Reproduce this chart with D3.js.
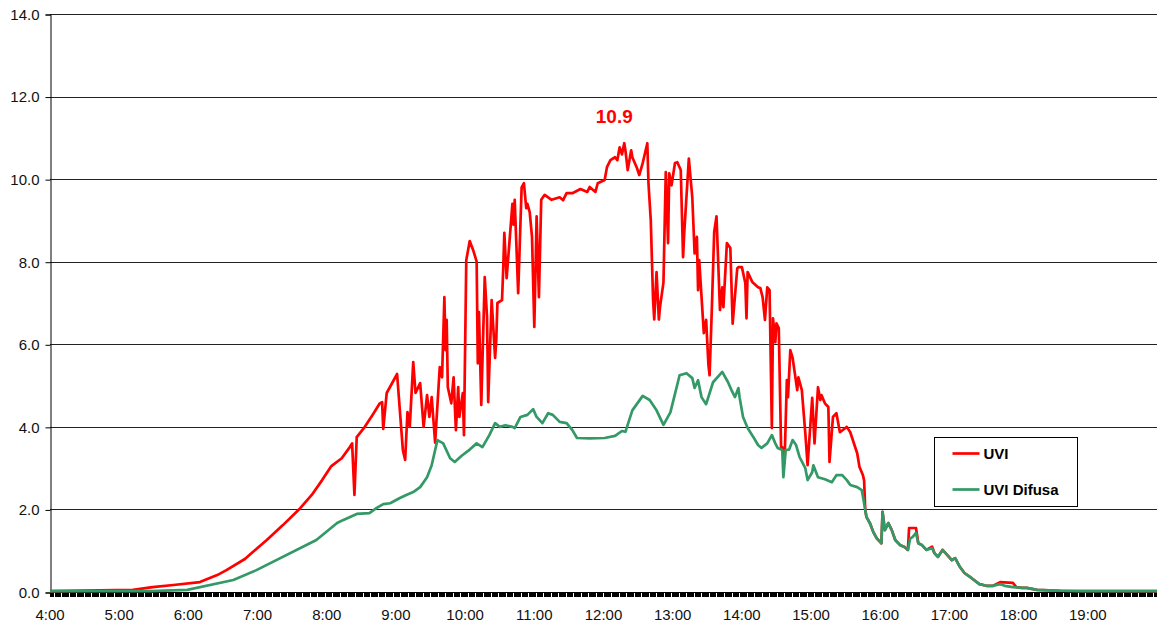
<!DOCTYPE html>
<html>
<head>
<meta charset="utf-8">
<script src="https://cdn.jsdelivr.net/npm/d3@7"></script>
<style>
  body { margin: 0; background: #fff; }
  svg { display: block; font-family: "Liberation Sans", Arial, sans-serif; }
</style>
</head>
<body>
<svg id="chart" width="1157" height="627"></svg>
<script>
// series names, axis ticks
const seriesNames = ['UVI', 'UVI Difusa'];
const yTicks = [0, 2, 4, 6, 8, 10, 12, 14];
const xTickLabels = ['4:00', '5:00', '6:00', '7:00', '8:00', '9:00', '10:00', '11:00',
  '12:00', '13:00', '14:00', '15:00', '16:00', '17:00', '18:00', '19:00'];
const peakLabel = '10.9';
const peakTime = '12:18';

// UVI (global)
const uviTimes = ['4:00','5:12','5:29','5:47','6:10','6:25','6:33','6:49','7:08','7:22','7:37','7:47','7:56',
  '8:04','8:13','8:20','8:22','8:24','8:26','8:33','8:40','8:46','8:48','8:49','8:52','9:01','9:06','9:08','9:10',
  '9:12','9:15','9:17','9:21','9:24','9:27','9:29','9:31','9:34','9:38','9:40','9:42','9:43','9:44','9:45',
  '9:48','9:50','9:52','9:54','9:55','9:58','9:59','10:01','10:04','10:07','10:10','10:11','10:12','10:14',
  '10:17','10:19','10:20','10:23','10:26','10:27','10:28','10:32','10:33','10:34','10:36','10:41','10:42',
  '10:43','10:46','10:49','10:51','10:53','10:54','10:56','10:58','11:00','11:02','11:04','11:06','11:09',
  '11:15','11:22','11:25','11:28','11:33','11:40','11:46','11:48','11:53','11:55','12:01','12:03','12:06',
  '12:10','12:12','12:14','12:16','12:18','12:19','12:21','12:24','12:25','12:29','12:31','12:34','12:38',
  '12:39','12:41','12:43','12:44','12:46','12:48','12:49','12:52','12:54','12:56','12:57','12:59','13:02',
  '13:04','13:07','13:09','13:10','13:14','13:17','13:19','13:21','13:22','13:23','13:27','13:29','13:31',
  '13:32','13:34','13:36','13:38','13:41','13:43','13:44','13:47','13:50','13:52','13:56','13:57','14:00',
  '14:03','14:04','14:05','14:09','14:14','14:16','14:18','14:20','14:22','14:24','14:26','14:27','14:29',
  '14:30','14:32','14:34','14:35','14:37','14:39','14:40','14:42','14:44','14:48','14:49','14:52','14:55',
  '14:57','15:01','15:03','15:06','15:08','15:09','15:12','15:15','15:16','15:19','15:22','15:25','15:31',
  '15:34','15:40','15:42','15:45','15:46','15:47','15:48','15:51','15:54','15:57','16:01','16:02','16:04',
  '16:07','16:10','16:13','16:17','16:21','16:24','16:25','16:31','16:33','16:36','16:40','16:45','16:47',
  '16:50','16:54','16:58','17:02','17:05','17:09','17:13','17:19','17:26','17:32','17:38','17:44','17:55',
  '17:58','18:03','18:07','18:16','18:36','20:00'];
const uviValues = [0.02,0.05,0.12,0.17,0.24,0.41,0.53,0.80,1.26,1.62,2.03,2.35,2.71,
  3.05,3.24,3.51,3.60,2.35,3.75,4.00,4.30,4.57,4.60,3.95,4.82,5.28,3.44,3.20,4.36,
  4.00,5.57,4.82,5.06,4.00,4.77,4.24,4.72,3.62,5.45,5.20,7.14,5.86,6.59,4.96,
  4.57,5.20,3.92,4.96,4.24,4.82,3.80,8.04,8.50,8.28,8.00,5.54,6.78,4.53,
  7.63,6.66,4.60,7.07,5.67,6.10,7.00,7.07,7.80,8.70,7.60,9.40,8.90,
  9.50,7.24,9.80,9.90,9.30,9.40,9.20,8.60,6.42,9.10,7.14,9.50,9.62,
  9.50,9.56,9.49,9.66,9.66,9.76,9.69,9.81,9.69,9.90,9.98,10.29,10.46,
  10.53,10.46,10.77,10.60,10.87,10.70,10.22,10.70,10.53,10.27,10.10,10.39,10.87,
  9.90,9.00,7.07,6.60,7.75,6.60,6.90,7.50,10.17,8.45,10.14,9.85,10.39,
  10.41,10.22,8.11,8.69,10.50,9.56,8.20,8.60,7.31,8.04,6.27,6.59,5.50,
  5.25,6.90,8.72,9.10,6.83,7.38,6.90,8.45,8.33,6.50,7.84,7.87,7.87,
  7.48,6.63,7.75,7.51,7.38,7.36,7.14,6.59,7.38,7.31,3.97,6.63,6.05,
  6.51,6.39,3.51,3.51,3.12,5.13,4.72,5.86,5.67,4.89,5.20,4.89,3.85,
  3.07,4.70,3.60,4.96,4.65,4.77,4.57,4.48,3.15,4.24,4.33,3.87,4.00,
  3.87,3.36,3.03,2.83,2.70,1.99,1.82,1.67,1.45,1.30,1.18,1.94,1.50,
  1.67,1.50,1.26,1.14,1.09,1.02,1.55,1.55,1.18,1.14,1.02,1.10,0.94,
  0.85,1.02,0.90,0.77,0.82,0.61,0.46,0.34,0.19,0.15,0.15,0.24,0.22,
  0.12,0.10,0.10,0.05,0.03,0.02];

// UVI Difusa
const difusaTimes = ['4:00','5:27','5:59','6:39','6:59','7:51','8:09','8:14','8:26','8:37','8:43','8:49','8:55',
  '9:03','9:09','9:15','9:21','9:27','9:31','9:34','9:36','9:41','9:47','9:51','9:57','10:04','10:10','10:15',
  '10:21','10:26','10:30','10:35','10:41','10:43','10:48','10:54','10:59','11:02','11:07','11:12','11:16',
  '11:22','11:28','11:33','11:37','11:48','12:01','12:10','12:16','12:19','12:25','12:34','12:40','12:46',
  '12:52','12:58','13:02','13:06','13:12','13:17','13:19','13:22','13:25','13:29','13:35','13:43','13:48',
  '13:51','13:54','13:57','13:58','14:01','14:05','14:10','14:14','14:17','14:22','14:26','14:29','14:31',
  '14:35','14:36','14:38','14:41','14:44','14:47','14:50','14:55','14:57','15:01','15:02','15:06','15:12',
  '15:18','15:22','15:27','15:31','15:34','15:40','15:44','15:47','15:48','15:51','15:54','15:57','16:01',
  '16:02','16:04','16:07','16:10','16:13','16:17','16:21','16:24','16:26','16:28','16:31','16:33','16:36',
  '16:40','16:45','16:47','16:50','16:54','16:58','17:02','17:05','17:09','17:13','17:19','17:26','17:32',
  '17:38','17:44','17:48','17:55','18:03','18:07','18:16','18:36','18:53','20:00'];
const difusaValues = [0.02,0.02,0.05,0.29,0.53,1.26,1.67,1.74,1.89,1.91,2.03,2.13,2.15,
  2.27,2.35,2.42,2.54,2.78,3.07,3.44,3.68,3.60,3.24,3.15,3.30,3.45,3.60,3.51,
  3.80,4.09,4.00,4.04,4.00,3.97,4.24,4.29,4.43,4.24,4.09,4.33,4.29,
  4.12,4.09,3.92,3.73,3.72,3.73,3.78,3.90,3.88,4.40,4.75,4.65,4.40,
  4.05,4.35,4.80,5.25,5.30,5.18,4.94,5.13,4.72,4.55,5.08,5.33,5.08,
  4.89,4.72,4.94,4.72,4.24,3.97,3.75,3.56,3.49,3.60,3.80,3.60,3.49,
  3.44,2.78,3.44,3.45,3.68,3.56,3.27,3.00,2.71,2.90,3.07,2.78,2.73,
  2.66,2.83,2.83,2.71,2.59,2.54,2.47,1.99,1.82,1.67,1.45,1.30,1.18,
  1.94,1.50,1.67,1.50,1.26,1.14,1.09,1.02,1.30,1.33,1.43,1.18,1.14,
  1.02,1.06,0.94,0.85,1.02,0.90,0.77,0.82,0.61,0.46,0.34,0.19,0.15,
  0.15,0.19,0.15,0.12,0.10,0.10,0.05,0.03,0.02,0.02];

const colors = ['#ff0000', '#339966'];

const toMin = s => { const [h, m] = s.split(':').map(Number); return h * 60 + m; };

const svg = d3.select('#chart');
const plotLeft = 50, plotRight = 1157, plotTop = 14, plotBottom = 592;

const x = d3.scaleLinear().domain([toMin('4:00'), toMin('20:00')]).range([plotLeft, plotRight]);
const y = d3.scaleLinear().domain([0, 14]).range([plotBottom, plotTop]);

// horizontal grid
svg.append('g')
  .selectAll('line')
  .data(yTicks.filter(d => d > 0))
  .enter()
  .append('line')
  .attr('x1', plotLeft).attr('x2', plotRight)
  .attr('y1', d => Math.round(y(d)) + 0.5)
  .attr('y2', d => Math.round(y(d)) + 0.5)
  .attr('stroke', '#222')
  .attr('stroke-width', 1);

// y axis
const yAxis = svg.append('g')
  .attr('transform', `translate(${plotLeft + 0.5},0.5)`)
  .call(d3.axisLeft(y).tickValues(yTicks).tickFormat(d3.format('.1f')).tickSize(5).tickPadding(6));
yAxis.select('.domain').attr('stroke', '#000');
yAxis.selectAll('line').attr('stroke', '#000');
yAxis.selectAll('text').style('font-size', '15px').style('font-family', '"Liberation Sans", Arial, sans-serif').attr('fill', '#111');

// x axis: a tick on every sample minute, labels on the hours
const minorTicks = d3.range(toMin('4:00'), toMin('20:00') + 1, 1);
svg.append('g')
  .selectAll('line')
  .data(minorTicks)
  .enter()
  .append('line')
  .attr('x1', d => Math.round(x(d)) + 0.5)
  .attr('x2', d => Math.round(x(d)) + 0.5)
  .attr('y1', plotBottom)
  .attr('y2', plotBottom + 5)
  .attr('stroke', '#000')
  .attr('stroke-width', 1);

svg.append('line')
  .attr('x1', plotLeft).attr('x2', plotRight)
  .attr('y1', plotBottom + 0.5).attr('y2', plotBottom + 0.5)
  .attr('stroke', '#000');

svg.append('g')
  .selectAll('text')
  .data(xTickLabels)
  .enter()
  .append('text')
  .attr('x', d => x(toMin(d)))
  .attr('y', 620)
  .attr('text-anchor', 'middle')
  .style('font-size', '15px')
  .attr('fill', '#111')
  .text(d => d);

// lines
const line = d3.line()
  .x(d => x(toMin(d[0])))
  .y(d => y(d[1]));

const series = [
  d3.zip(uviTimes, uviValues),
  d3.zip(difusaTimes, difusaValues)
];

svg.append('g')
  .selectAll('path')
  .data(series)
  .enter()
  .append('path')
  .attr('d', line)
  .attr('fill', 'none')
  .attr('stroke', (d, i) => colors[i])
  .attr('stroke-width', 2.7)
  .attr('stroke-linejoin', 'round');

// peak annotation
svg.append('text')
  .attr('x', x(toMin(peakTime)) - 10)
  .attr('y', 123)
  .attr('text-anchor', 'middle')
  .style('font-size', '19px')
  .style('font-weight', 'bold')
  .attr('fill', '#ff0000')
  .text(peakLabel);

// legend
const legend = svg.append('g').attr('transform', 'translate(934.5,437.5)');
legend.append('rect')
  .attr('width', 143).attr('height', 69)
  .attr('fill', '#fff')
  .attr('stroke', '#000');

const items = legend.selectAll('g.item')
  .data(seriesNames)
  .enter()
  .append('g')
  .attr('transform', (d, i) => `translate(0,${16 + i * 36})`);

items.append('line')
  .attr('x1', 18).attr('x2', 45)
  .attr('stroke', (d, i) => colors[i])
  .attr('stroke-width', 2.7);

items.append('text')
  .attr('x', 49)
  .attr('dy', '0.36em')
  .style('font-size', '15px')
  .style('font-weight', 'bold')
  .attr('fill', '#000')
  .text(d => d);
</script>
</body>
</html>
